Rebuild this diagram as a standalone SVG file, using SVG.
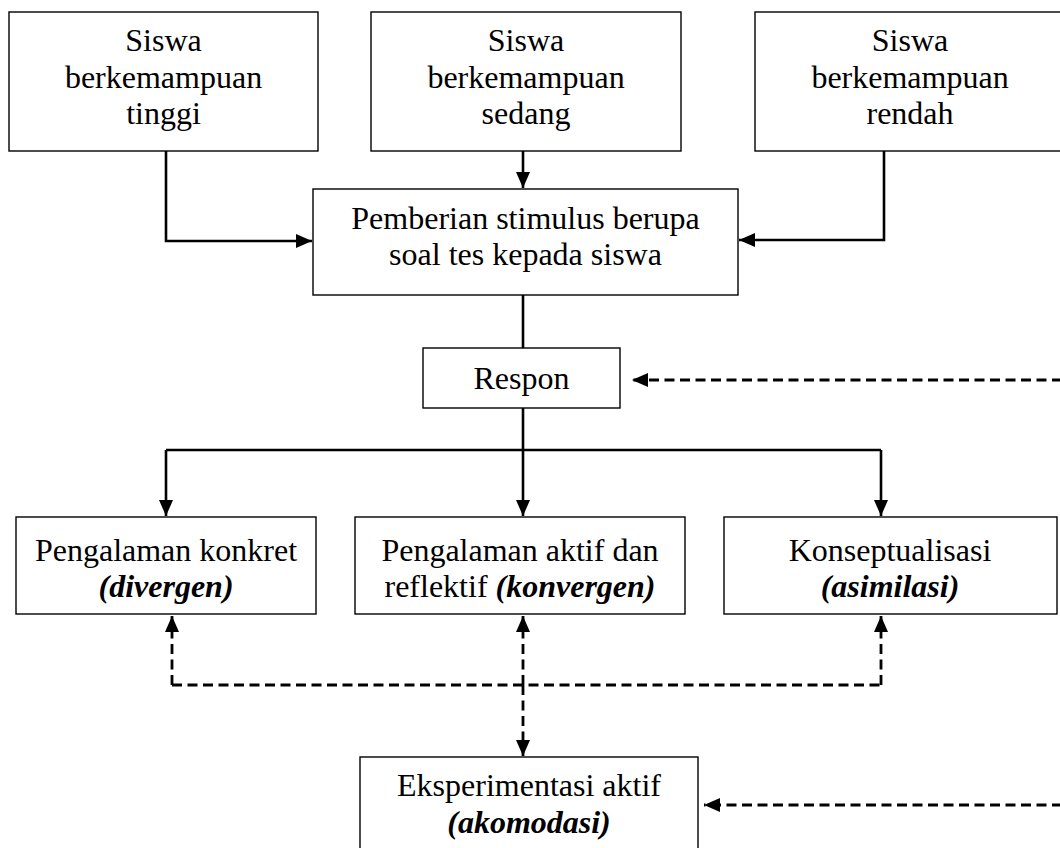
<svg xmlns="http://www.w3.org/2000/svg" width="1060" height="848" viewBox="0 0 1060 848">
<style>
.box{fill:#fff;stroke:#000;stroke-width:1.4}
.t{font-family:"Liberation Serif","Times New Roman",serif;font-size:32px;fill:#000;text-anchor:middle}
.bi{font-weight:bold;font-style:italic}
.c{fill:none;stroke:#000;stroke-width:2.6}
.d{fill:none;stroke:#000;stroke-width:2.8;stroke-dasharray:10 5.5}
</style>
<defs>
<marker id="ah" markerUnits="userSpaceOnUse" markerWidth="17" markerHeight="15" refX="16" refY="7" orient="auto">
<path d="M0,0 L16,7 L0,14 z" fill="#000"/>
</marker>
</defs>
<rect width="1060" height="848" fill="#fff"/>
<g id="connectors">
<path class="c" d="M166,151 V241 H312" marker-end="url(#ah)"/>
<path class="c" d="M523,151 V188" marker-end="url(#ah)"/>
<path class="c" d="M884,151 V240 H739" marker-end="url(#ah)"/>
<path class="c" d="M523,295 V348"/>
<path class="c" d="M523,408 V450"/>
<path class="c" d="M166,450 H881"/>
<path class="c" d="M166,450 V516" marker-end="url(#ah)"/>
<path class="c" d="M523,450 V516" marker-end="url(#ah)"/>
<path class="c" d="M881,450 V516" marker-end="url(#ah)"/>
<path class="d" d="M1062,380 H632" marker-end="url(#ah)"/>
<path class="d" d="M172,685 H881"/>
<path class="d" d="M172,685 V616" marker-end="url(#ah)"/>
<path class="d" d="M523,685 V616" marker-end="url(#ah)"/>
<path class="d" d="M881,685 V616" marker-end="url(#ah)"/>
<path class="d" d="M523,685 V756" marker-end="url(#ah)"/>
<path class="d" d="M1062,805 H704" marker-end="url(#ah)"/>
</g>
<g id="n-tinggi">
<rect class="box" x="9" y="12" width="309" height="139"/>
<text class="t" x="163.5" y="51">Siswa</text>
<text class="t" x="163.5" y="87.5">berkemampuan</text>
<text class="t" x="163.5" y="124">tinggi</text>
</g>
<g id="n-sedang">
<rect class="box" x="371" y="12" width="310" height="139"/>
<text class="t" x="526" y="51">Siswa</text>
<text class="t" x="526" y="87.5">berkemampuan</text>
<text class="t" x="526" y="124">sedang</text>
</g>
<g id="n-rendah">
<rect class="box" x="755" y="12" width="310" height="139"/>
<text class="t" x="910" y="51">Siswa</text>
<text class="t" x="910" y="87.5">berkemampuan</text>
<text class="t" x="910" y="124">rendah</text>
</g>
<g id="n-stimulus">
<rect class="box" x="313" y="189" width="425" height="106"/>
<text class="t" x="525.5" y="229">Pemberian stimulus berupa</text>
<text class="t" x="525.5" y="265">soal tes kepada siswa</text>
</g>
<g id="n-respon">
<rect class="box" x="423" y="348" width="197" height="60"/>
<text class="t" x="521.5" y="389">Respon</text>
</g>
<g id="n-divergen">
<rect class="box" x="16" y="517" width="300" height="97"/>
<text class="t" x="166" y="561">Pengalaman konkret</text>
<text class="t bi" x="166" y="597">(divergen)</text>
</g>
<g id="n-konvergen">
<rect class="box" x="355" y="517" width="330" height="97"/>
<text class="t" x="520" y="561">Pengalaman aktif dan</text>
<text class="t" x="520" y="597">reflektif <tspan class="bi">(konvergen)</tspan></text>
</g>
<g id="n-asimilasi">
<rect class="box" x="724" y="517" width="333" height="97"/>
<text class="t" x="890" y="561">Konseptualisasi</text>
<text class="t bi" x="890" y="597">(asimilasi)</text>
</g>
<g id="n-akomodasi">
<rect class="box" x="360" y="757" width="338" height="100"/>
<text class="t" x="529" y="796">Eksperimentasi aktif</text>
<text class="t bi" x="529" y="833">(akomodasi)</text>
</g>
</svg>
